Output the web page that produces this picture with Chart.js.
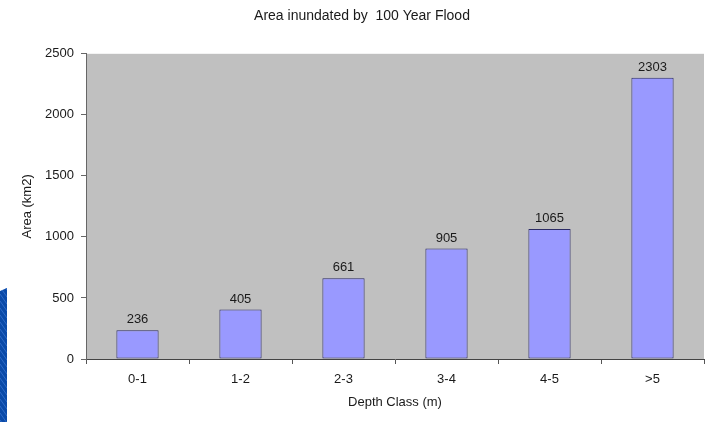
<!DOCTYPE html>
<html>
<head>
<meta charset="utf-8">
<script src="https://cdn.jsdelivr.net/npm/chart.js@4/dist/chart.umd.min.js"></script>
<style>
  html, body { margin: 0; padding: 0; background: #fff; }
  #wrap { width: 720px; height: 422px; position: relative; }
</style>
</head>
<body>
<div id="wrap"><canvas id="c" width="720" height="422"></canvas></div>
<script>
const depthClasses = ['0-1', '1-2', '2-3', '3-4', '4-5', '>5'];
const areaKm2 = [236, 405, 661, 905, 1065, 2303];
const yTicks = [0, 500, 1000, 1500, 2000, 2500];

const FONT = '"Liberation Sans", Arial, sans-serif';
const TEXT = '#1a1a1a';

// Grey plot background, bar value labels and the blue striped edge at lower left
const decor = {
  id: 'decor',
  beforeDraw(chart) {
    const { ctx, chartArea: a } = chart;
    ctx.save();
    ctx.fillStyle = '#c0c0c0';
    ctx.fillRect(a.left, a.top, a.right - a.left, a.bottom - a.top);
    // blue striped edge
    ctx.beginPath();
    ctx.moveTo(0, 291); ctx.lineTo(7, 288); ctx.lineTo(7, 422); ctx.lineTo(0, 422); ctx.closePath();
    ctx.fillStyle = '#0a4aa8';
    ctx.fill();
    ctx.clip();
    ctx.strokeStyle = '#2f6cc8';
    ctx.lineWidth = 1;
    for (let y = 280; y < 440; y += 7) {
      ctx.beginPath(); ctx.moveTo(0, y); ctx.lineTo(7, y + 10); ctx.stroke();
    }
    ctx.restore();
  },
  afterDatasetsDraw(chart) {
    const { ctx } = chart;
    const meta = chart.getDatasetMeta(0);
    ctx.save();
    ctx.font = '13px ' + FONT;
    ctx.fillStyle = TEXT;
    ctx.textAlign = 'center';
    ctx.textBaseline = 'alphabetic';
    meta.data.forEach((bar, i) => {
      ctx.fillText(String(chart.data.datasets[0].data[i]), bar.x, bar.y - 7);
    });
    ctx.restore();
  }
};

new Chart(document.getElementById('c'), {
  type: 'bar',
  data: {
    labels: depthClasses,
    datasets: [{
      data: areaKm2,
      backgroundColor: '#9999ff',
      borderColor: '#2c2c66',
      borderWidth: 1,
      borderSkipped: false,
      categoryPercentage: 1,
      barPercentage: 0.41
    }]
  },
  options: {
    responsive: false,
    animation: false,
    devicePixelRatio: 1,
    layout: { padding: { left: 20, right: 16, top: 0, bottom: 0 } },
    plugins: {
      legend: { display: false },
      tooltip: { enabled: false },
      title: {
        display: true,
        text: 'Area inundated by  100 Year Flood',
        color: TEXT,
        font: { family: FONT, size: 14, weight: 'normal' },
        padding: { top: 8, bottom: 29 }
      }
    },
    scales: {
      x: {
        offset: true,
        grid: { display: true, offset: true, drawOnChartArea: false, drawTicks: true, tickLength: 5, color: '#555' },
        border: { display: true, color: '#444', width: 1 },
        ticks: { color: TEXT, font: { family: FONT, size: 13 }, padding: 8, maxRotation: 0 },
        title: { display: true, text: 'Depth Class (m)', color: TEXT, font: { family: FONT, size: 13 }, padding: { top: 4, bottom: 12 } },
        afterFit(scale) { scale.height = 63; }
      },
      y: {
        min: 0, max: 2500,
        afterBuildTicks(scale) { scale.ticks = yTicks.map(v => ({ value: v })); },
        grid: { display: true, drawOnChartArea: false, drawTicks: true, tickLength: 5, color: '#666' },
        border: { display: true, color: '#666', width: 1 },
        ticks: { color: TEXT, font: { family: FONT, size: 13 }, padding: 7, callback: v => String(v) },
        title: { display: true, text: 'Area (km2)', color: TEXT, font: { family: FONT, size: 13 }, padding: { top: 0, bottom: 0 } },
        afterFit(scale) { scale.width = 66; }
      }
    }
  },
  plugins: [decor]
});
</script>
</body>
</html>
